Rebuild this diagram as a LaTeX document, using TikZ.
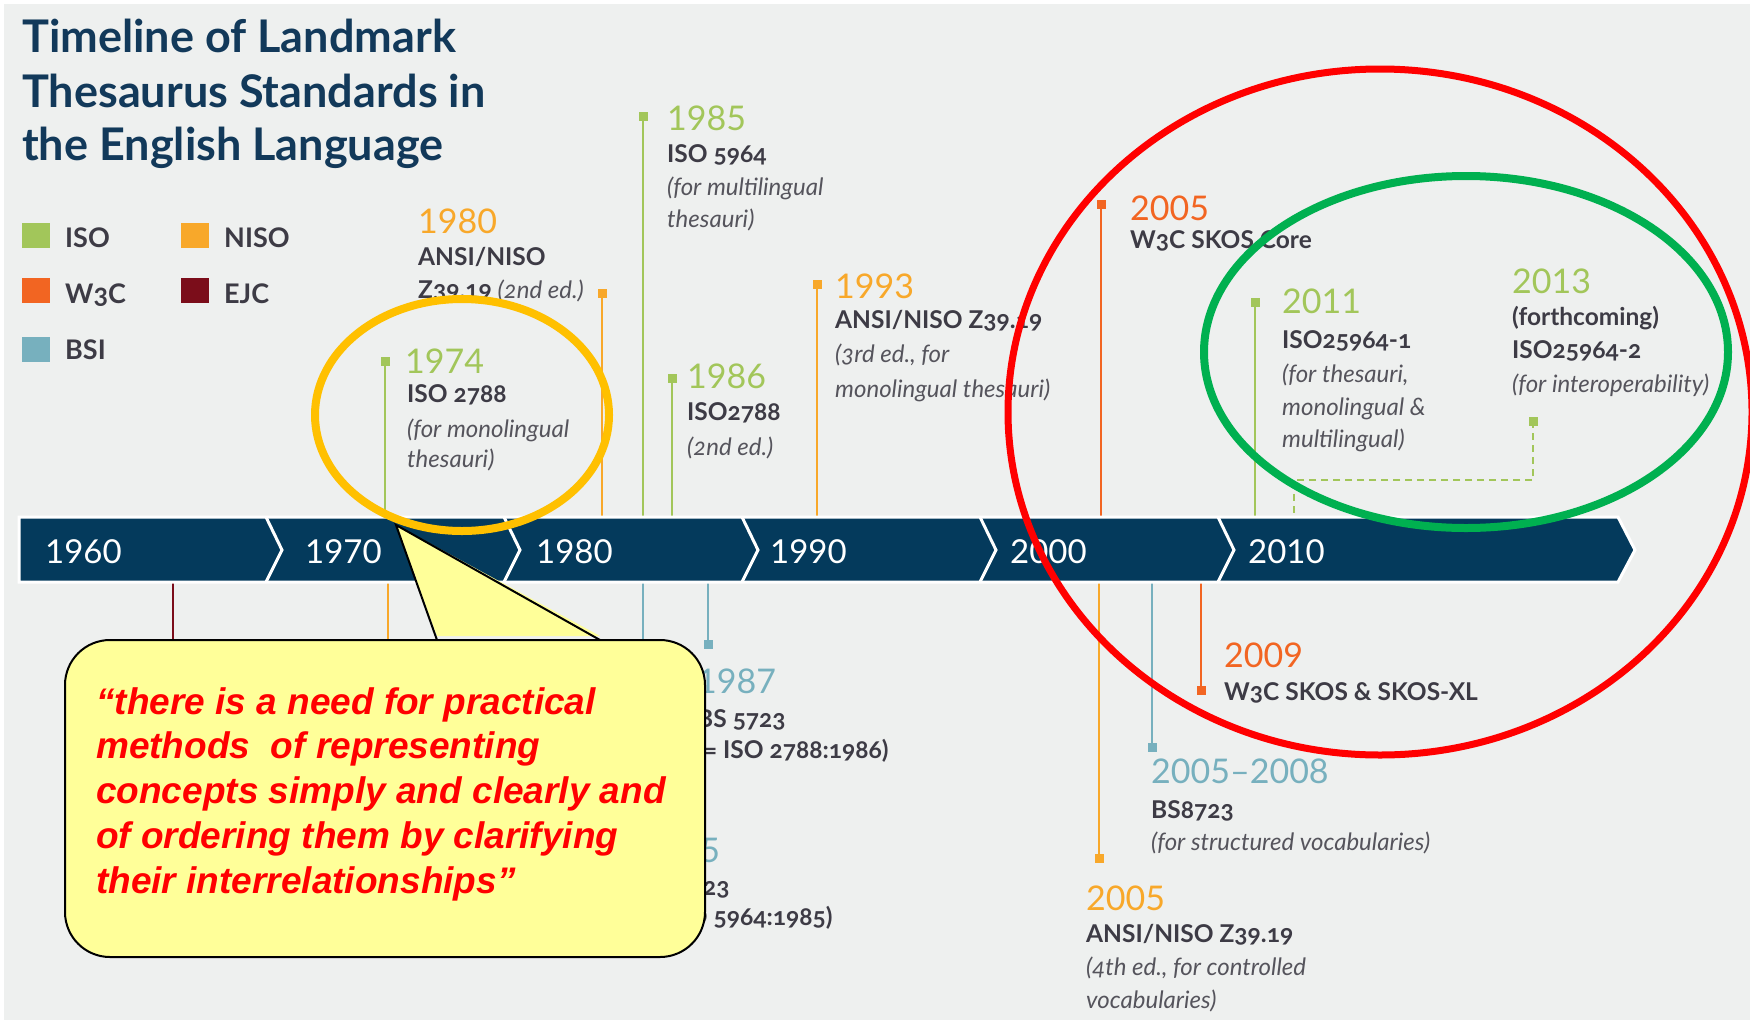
\documentclass[tikz,border=0pt]{standalone}
\usepackage{fontspec}
\setmainfont{Lato}[Numbers=OldStyle]
\newfontfamily\latoln{Lato}[Numbers=Lining]
\newfontfamily\arialfont{Liberation Sans}
\definecolor{bgc}{HTML}{EEF0EF}
\definecolor{navy}{HTML}{043A5C}
\definecolor{titlec}{HTML}{12395A}
\definecolor{iso}{HTML}{A2C65A}
\definecolor{niso}{HTML}{F8A82A}
\definecolor{w3c}{HTML}{F26522}
\definecolor{ejc}{HTML}{7B0D1A}
\definecolor{bsi}{HTML}{77B0BE}
\definecolor{txt}{HTML}{3D3B45}
\definecolor{txtlt}{HTML}{55545C}
\definecolor{callfill}{HTML}{FFFF99}
\definecolor{ringorange}{HTML}{FFC000}
\definecolor{ringred}{HTML}{FF0000}
\definecolor{ringgreen}{HTML}{00B050}
\tikzset{
  ttl/.style={anchor=base west, inner sep=0, text=titlec, font=\fontsize{45}{45}\selectfont\bfseries},
  lgt/.style={anchor=base west, inner sep=0, text=txt, font=\fontsize{27}{27}\selectfont\bfseries},
  lgsq/.style={rectangle, inner sep=0, minimum width=28, minimum height=25},
  yr/.style={anchor=base west, inner sep=0, font=\latoln\fontsize{34}{34}\selectfont},
  lb/.style={anchor=base west, inner sep=0, text=txt, font=\fontsize{24.5}{24.5}\selectfont\bfseries},
  li/.style={anchor=base west, inner sep=0, text=txtlt, font=\fontsize{24}{24}\selectfont\itshape},
  sqr/.style={rectangle, inner sep=0, minimum size=9},
  stem/.style={line width=2},
  dec/.style={anchor=base west, inner sep=0, text=white, font=\latoln\fontsize{33}{33}\selectfont},
  quote/.style={anchor=base west, inner sep=0, text=ringred, font=\arialfont\bfseries\itshape\fontsize{37}{37}\selectfont},
  ring/.style={line width=8}
}
\begin{document}
\begin{tikzpicture}[x=1pt,y=-1pt]
\useasboundingbox (0,0) rectangle (1750,1020);
\clip (0,0) rectangle (1750,1020);
\fill[white] (0,0) rectangle (1750,1020);
\fill[bgc] (4,4) rectangle (1750,1020);

% title
\node[ttl] (t1) at (22,52) {Timeline of Landmark};
\node[ttl] (t2) at (22,107) {Thesaurus Standards in};
\node[ttl] (t3) at (22,160) {the English Language};

% legend
\node[lgsq,fill=iso] (lg1) at (36,235) {};
\node[lgt] (lg1t) at (65,247) {ISO};
\node[lgsq,fill=niso] (lg2) at (195,235) {};
\node[lgt] (lg2t) at (224,247) {NISO};
\node[lgsq,fill=w3c] (lg3) at (36,290) {};
\node[lgt] (lg3t) at (65,303) {W3C};
\node[lgsq,fill=ejc] (lg4) at (195,290) {};
\node[lgt] (lg4t) at (224,303) {EJC};
\node[lgsq,fill=bsi] (lg5) at (36,349) {};
\node[lgt] (lg5t) at (65,359) {BSI};

% ---------- top events ----------
% 1974 ISO
\node[sqr,fill=iso] (s74) at (385,361) {};
\coordinate (e74) at (385,517);
\draw[stem,iso] (s74.center) -- (e74);
\node[yr,text=iso] (y74) at (405,373) {1974};
\node[lb] (a74) at (407,402) {ISO 2788};
\node[li] (b74) at (407,437) {(for monolingual};
\node[li] (c74) at (407,467) {thesauri)};

% 1980 NISO
\node[sqr,fill=niso] (s80) at (602,293) {};
\coordinate (e80) at (602,517);
\draw[stem,niso] (s80.center) -- (e80);
\node[yr,text=niso] (y80) at (418,233) {1980};
\node[lb] (a80) at (418,265) {ANSI/NISO};
\node[lb] (b80) at (418,298) {Z39.19 {\mdseries\itshape\fontsize{24}{24}\selectfont\color{txtlt}(2nd ed.)}};

% 1985 ISO
\node[sqr,fill=iso] (s85) at (643,116) {};
\coordinate (e85) at (643,517);
\draw[stem,iso] (s85.center) -- (e85);
\node[yr,text=iso] (y85) at (667,130) {1985};
\node[lb] (a85) at (667,162) {ISO 5964};
\node[li] (b85) at (667,195) {(for multilingual};
\node[li] (c85) at (667,227) {thesauri)};

% 1986 ISO
\node[sqr,fill=iso] (s86) at (672,378) {};
\coordinate (e86) at (672,517);
\draw[stem,iso] (s86.center) -- (e86);
\node[yr,text=iso] (y86) at (687,388) {1986};
\node[lb] (a86) at (687,420) {ISO2788};
\node[li] (b86) at (687,455) {(2nd ed.)};

% 1993 NISO
\node[sqr,fill=niso] (s93) at (817,284) {};
\coordinate (e93) at (817,517);
\draw[stem,niso] (s93.center) -- (e93);
\node[yr,text=niso] (y93) at (835,298) {1993};
\node[lb] (a93) at (835,328) {ANSI/NISO Z39.19};
\node[li] (b93) at (835,362) {(3rd ed., for};
\node[li] (c93) at (835,397) {monolingual thesauri)};

% 2005 W3C
\node[sqr,fill=w3c] (s05w) at (1101,204) {};
\coordinate (e05w) at (1101,517);
\draw[stem,w3c] (s05w.center) -- (e05w);
\node[yr,text=w3c] (y05w) at (1130,220) {2005};
\node[lb] (a05w) at (1130,248) {W3C SKOS Core};

% 2011 ISO
\node[sqr,fill=iso] (s11) at (1255,302) {};
\coordinate (e11) at (1255,517);
\draw[stem,iso] (s11.center) -- (e11);
\node[yr,text=iso] (y11) at (1282,313) {2011};
\node[lb] (a11) at (1282,348) {ISO25964-1};
\node[li] (b11) at (1282,382) {(for thesauri,};
\node[li] (c11) at (1282,415) {monolingual \&};
\node[li] (d11) at (1282,447) {multilingual)};

% 2013 ISO (forthcoming)
\node[sqr,fill=iso] (s13) at (1533,421) {};
\coordinate (k13a) at (1533,480);
\coordinate (k13b) at (1294,480);
\coordinate (e13) at (1294,517);
\draw[stem,iso,dash pattern=on 7 off 5] (s13.center) -- (k13a) -- (k13b) -- (e13);
\node[yr,text=iso] (y13) at (1512,293) {2013};
\node[lb] (a13) at (1512,325) {(forthcoming)};
\node[lb] (b13) at (1512,358) {ISO25964-2};
\node[li] (c13) at (1512,392) {(for interoperability)};

% ---------- bottom events ----------
\coordinate (eE) at (173,582); \coordinate (fE) at (173,700);
\draw[stem,ejc] (eE) -- (fE);
\coordinate (eN) at (388,582); \coordinate (fN) at (388,700);
\draw[stem,niso] (eN) -- (fN);
\coordinate (eB) at (643,582); \coordinate (fB) at (643,760);
\draw[stem,bsi] (eB) -- (fB);
\node[yr,text=bsi] (y85b) at (641,862) {1985};
\node[lb] (a85b) at (641,895) {BS 6723};
\node[lb] (b85b) at (641,925) {(= ISO 5964:1985)};

% 1987 BSI
\node[sqr,fill=bsi] (s87) at (708,644) {};
\coordinate (e87) at (708,582);
\draw[stem,bsi] (e87) -- (s87.center);
\node[yr,text=bsi] (y87) at (697,693) {1987};
\node[lb] (a87) at (697,727) {BS 5723};
\node[lb] (b87) at (697,758) {(= ISO 2788:1986)};

% 2005 NISO
\node[sqr,fill=niso] (s05n) at (1099,858) {};
\coordinate (e05n) at (1099,582);
\draw[stem,niso] (e05n) -- (s05n.center);
\node[yr,text=niso] (y05n) at (1086,910) {2005};
\node[lb] (a05n) at (1086,942) {ANSI/NISO Z39.19};
\node[li] (b05n) at (1086,975) {(4th ed., for controlled};
\node[li] (c05n) at (1086,1008) {vocabularies)};

% 2005-2008 BSI
\node[sqr,fill=bsi] (s0508) at (1152,747) {};
\coordinate (e0508) at (1152,582);
\draw[stem,bsi] (e0508) -- (s0508.center);
\node[yr,text=bsi] (y0508) at (1151,783) {2005–2008};
\node[lb] (a0508) at (1151,818) {BS8723};
\node[li] (b0508) at (1151,850) {(for structured vocabularies)};

% 2009 W3C
\node[sqr,fill=w3c] (s09) at (1201,690) {};
\coordinate (e09) at (1201,582);
\draw[stem,w3c] (e09) -- (s09.center);
\node[yr,text=w3c] (y09) at (1224,667) {2009};
\node[lb] (a09) at (1224,700) {W3C SKOS \& SKOS-XL};

% ---------- timeline bar ----------
\fill[navy, draw=white, line width=3, line join=miter] (19,517) -- (1618,517) -- (1635,550) -- (1618,582) -- (19,582) -- cycle;
\foreach \sx in {266,504,742,980,1218}{
  \draw[white, line width=3] (\sx,517) -- (\sx+16,550) -- (\sx,582);
}
\node[dec] (d60) at (45,563) {1960};
\node[dec] (d70) at (305,563) {1970};
\node[dec] (d80) at (536,563) {1980};
\node[dec] (d90) at (770,563) {1990};
\node[dec] (d00) at (1010,563) {2000};
\node[dec] (d10) at (1248,563) {2010};

% ---------- callout ----------
\node[draw=black, line width=2, fill=callfill, rounded corners=45, minimum width=640, minimum height=317, inner sep=0] (box) at (385,798.5) {};
\coordinate (pL) at (437,640);
\coordinate (pT) at (396,525);
\coordinate (pR) at (600,640);
\fill[callfill] ([yshift=4]pL) -- (pT) -- ([yshift=4]pR) -- cycle;
\draw[line width=2, line join=miter] (pL) -- (pT) -- (pR);
\node[quote] (q1) at (96,714) {“there is a need for practical};
\node[quote] (q2) at (96,758) {methods~ of representing};
\node[quote] (q3) at (96,803) {concepts simply and clearly and};
\node[quote] (q4) at (96,848) {of ordering them by clarifying};
\node[quote] (q5) at (96,893) {their interrelationships”};

% ---------- rings ----------
\draw[ring, ringorange] (462,415) ellipse [x radius=147, y radius=116];
\draw[ring, ringred, line width=7] (1380,412) ellipse [x radius=372, y radius=343];
\draw[ring, ringgreen] (1466,352) ellipse [x radius=262, y radius=176];
\end{tikzpicture}
\end{document}
